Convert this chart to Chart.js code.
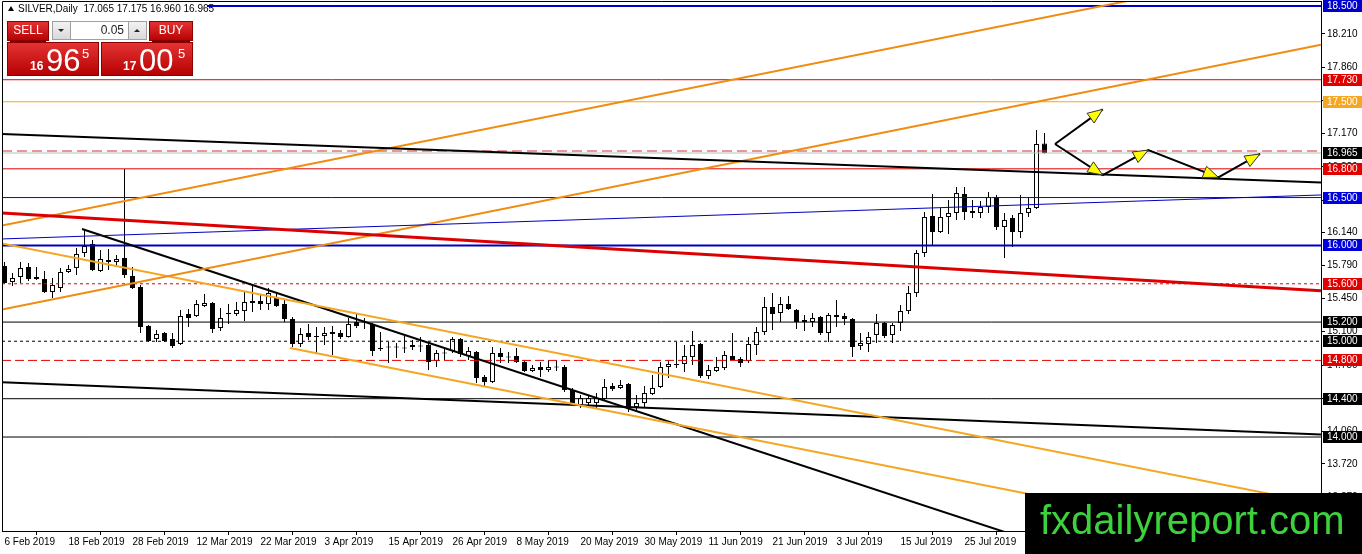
<!DOCTYPE html>
<html>
<head>
<meta charset="utf-8">
<script src="https://cdn.jsdelivr.net/npm/chart.js@4.4.1/dist/chart.umd.min.js"></script>
<style>
html, body { margin: 0; padding: 0; background: #fff; overflow: hidden; }
#wrap { position: relative; width: 1362px; height: 554px; }
</style>
</head>
<body>
<div id="wrap"><canvas id="chart" width="1362" height="554"></canvas></div>
<script>
// SILVER daily candles, one per trading day starting 6 Feb 2019
const opens = [
  15.786, 15.618, 15.671, 15.775, 15.671, 15.650, 15.514, 15.556, 15.723, 15.764,
  15.921, 16.015, 15.733, 15.848, 15.827, 15.869, 15.681, 15.566, 15.159, 15.023,
  15.086, 15.023, 14.971, 15.284, 15.263, 15.368, 15.399, 15.138, 15.284, 15.284,
  15.315, 15.420, 15.420, 15.388, 15.462, 15.388, 15.232, 14.971, 15.086, 15.044,
  15.054, 15.075, 15.086, 15.044, 15.201, 15.201, 15.180, 14.919, 14.940, 14.935,
  14.929, 14.940, 14.950, 14.960, 14.793, 14.877, 14.898, 15.023, 14.846, 14.887,
  14.626, 14.574, 14.877, 14.835, 14.846, 14.783, 14.689, 14.731, 14.699, 14.731,
  14.731, 14.491, 14.334, 14.355, 14.355, 14.397, 14.532, 14.512, 14.553, 14.313,
  14.355, 14.449, 14.522, 14.731, 14.752, 14.762, 14.835, 14.971, 14.637, 14.689,
  14.720, 14.846, 14.814, 14.793, 14.960, 15.096, 15.357, 15.295, 15.388, 15.326,
  15.222, 15.201, 15.253, 15.086, 15.274, 15.263, 15.232, 14.950, 14.971, 15.065,
  15.190, 15.065, 15.190, 15.315, 15.503, 15.921, 16.307, 16.140, 16.297, 16.339,
  16.537, 16.360, 16.339, 16.401, 16.506, 16.193, 16.286, 16.140, 16.339, 16.391,
  17.065
];
const highs = [
  15.827, 15.712, 15.827, 15.817, 15.775, 15.733, 15.660, 15.764, 15.796, 15.973,
  16.172, 16.057, 15.952, 15.963, 15.900, 16.798, 15.775, 15.587, 15.169, 15.117,
  15.096, 15.086, 15.326, 15.336, 15.430, 15.493, 15.409, 15.347, 15.388, 15.409,
  15.514, 15.587, 15.493, 15.556, 15.514, 15.430, 15.253, 15.138, 15.180, 15.148,
  15.148, 15.159, 15.117, 15.242, 15.295, 15.242, 15.190, 15.096, 14.992, 14.981,
  15.054, 15.013, 15.044, 14.981, 14.908, 14.929, 15.044, 15.034, 14.940, 14.898,
  14.647, 14.940, 14.929, 14.887, 14.929, 14.804, 14.752, 14.783, 14.804, 14.804,
  14.752, 14.512, 14.438, 14.438, 14.459, 14.605, 14.564, 14.595, 14.564, 14.438,
  14.532, 14.647, 14.783, 14.804, 14.992, 14.960, 15.107, 14.981, 14.752, 14.835,
  14.898, 15.086, 14.835, 15.044, 15.148, 15.462, 15.503, 15.462, 15.472, 15.336,
  15.274, 15.295, 15.263, 15.295, 15.430, 15.295, 15.242, 15.086, 15.096, 15.284,
  15.201, 15.190, 15.378, 15.576, 15.952, 16.349, 16.537, 16.391, 16.474, 16.610,
  16.610, 16.474, 16.464, 16.557, 16.527, 16.339, 16.318, 16.527, 16.495, 17.205,
  17.175
];
const lows = [
  15.597, 15.576, 15.608, 15.629, 15.639, 15.503, 15.451, 15.514, 15.712, 15.691,
  15.879, 15.733, 15.723, 15.744, 15.786, 15.660, 15.545, 15.086, 14.992, 14.992,
  14.992, 14.929, 14.960, 15.148, 15.253, 15.357, 15.086, 15.107, 15.180, 15.263,
  15.211, 15.305, 15.326, 15.326, 15.357, 15.201, 14.940, 14.940, 15.013, 14.877,
  14.960, 14.856, 15.023, 15.040, 15.138, 15.128, 14.846, 14.898, 14.772, 14.825,
  14.877, 14.908, 14.887, 14.699, 14.731, 14.804, 14.877, 14.835, 14.804, 14.564,
  14.532, 14.564, 14.772, 14.772, 14.772, 14.679, 14.679, 14.626, 14.679, 14.689,
  14.470, 14.334, 14.303, 14.313, 14.303, 14.376, 14.480, 14.501, 14.261, 14.282,
  14.313, 14.438, 14.512, 14.616, 14.720, 14.679, 14.752, 14.616, 14.605, 14.679,
  14.699, 14.804, 14.731, 14.772, 14.856, 15.065, 15.117, 15.201, 15.326, 15.128,
  15.107, 15.148, 15.065, 14.992, 15.148, 15.169, 14.835, 14.908, 14.887, 14.981,
  15.034, 14.981, 15.107, 15.284, 15.462, 15.879, 16.005, 16.130, 16.119, 16.266,
  16.266, 16.286, 16.286, 16.339, 16.161, 15.869, 15.984, 16.078, 16.297, 16.380,
  16.960
];
const closes = [
  15.608, 15.660, 15.764, 15.650, 15.650, 15.514, 15.587, 15.723, 15.754, 15.911,
  15.994, 15.744, 15.858, 15.827, 15.858, 15.691, 15.556, 15.148, 15.002, 15.075,
  15.002, 14.950, 15.263, 15.242, 15.388, 15.399, 15.128, 15.242, 15.290, 15.326,
  15.409, 15.399, 15.388, 15.503, 15.368, 15.232, 14.971, 15.075, 15.044, 15.050,
  15.086, 15.096, 15.044, 15.180, 15.159, 15.195, 14.898, 14.925, 14.935, 14.940,
  14.925, 14.960, 14.945, 14.783, 14.877, 14.872, 15.023, 14.867, 14.898, 14.616,
  14.574, 14.877, 14.835, 14.830, 14.783, 14.689, 14.720, 14.699, 14.731, 14.726,
  14.491, 14.355, 14.407, 14.407, 14.407, 14.522, 14.501, 14.543, 14.303, 14.355,
  14.459, 14.512, 14.731, 14.762, 14.757, 14.846, 14.960, 14.637, 14.699, 14.731,
  14.856, 14.804, 14.772, 14.971, 15.096, 15.357, 15.284, 15.388, 15.336, 15.201,
  15.201, 15.242, 15.086, 15.274, 15.253, 15.232, 14.940, 14.981, 15.044, 15.190,
  15.054, 15.169, 15.315, 15.503, 15.921, 16.297, 16.140, 16.297, 16.339, 16.547,
  16.349, 16.339, 16.401, 16.506, 16.193, 16.266, 16.140, 16.339, 16.391, 17.059,
  16.965
];

const dateLabels = ['6 Feb 2019', '18 Feb 2019', '28 Feb 2019', '12 Mar 2019', '22 Mar 2019',
  '3 Apr 2019', '15 Apr 2019', '26 Apr 2019', '8 May 2019', '20 May 2019', '30 May 2019',
  '11 Jun 2019', '21 Jun 2019', '3 Jul 2019', '15 Jul 2019', '25 Jul 2019'];
const dateBars = [0, 8, 16, 24, 32, 40, 48, 56, 64, 72, 80, 88, 96, 104, 112, 120];

const priceTicks = [18.21, 17.86, 17.51, 17.17, 16.82, 16.47, 16.14, 15.79, 15.45, 15.10,
  14.75, 14.40, 14.06, 13.72, 13.37];

// horizontal levels drawn on the chart (price)
const levelPrices = [18.5, 17.73, 17.5, 16.986, 16.965, 16.8, 16.5, 16.0, 15.6, 15.2, 15.0, 14.8, 14.4, 14.0];

// trend lines: [startBar, startPrice, endBar, endPrice]
const trendLines = [
  [-0.3125, 17.163, 164.5625, 16.658],   // black resistance
  [-0.3125, 16.338, 164.5625, 15.528],   // red
  [-0.3125, 16.068, 164.5625, 16.527],   // thin blue
  [-0.3125, 16.207, 164.5625, 18.956],   // rising channel top
  [-0.3125, 15.330, 164.5625, 18.095],   // rising channel bottom
  [-0.3125, 16.021, 164.5625, 13.300],   // falling channel top
  [35.69, 14.929, 164.5625, 12.802],     // falling channel bottom
  [9.69, 16.172, 164.5625, 11.924],      // steep black
  [-0.3125, 14.573, 164.5625, 14.027]    // lower black
];

// projected path arrows (bar, price)
const arrowUp = [[131.31, 17.059], [137.28, 17.421]];
const arrowPath = [[131.31, 17.059], [137.28, 16.735], [142.98, 16.996], [151.73, 16.711], [156.94, 16.955]];

const ohlcTitle = 'SILVER,Daily  17.065 17.175 16.960 16.965';

// ---------- styles ----------
const X_MIN = -0.3125, X_MAX = 164.5625;
const Y_MIN = 13.019, Y_MAX = 18.552;
const FONT = '"Liberation Sans", Arial, sans-serif';

const levelLook = [
  { c: '#0000cc', w: 2, box: '#0000cc' },
  { c: '#e00000', w: 1, box: '#e00000' },
  { c: '#f5a623', w: 1, box: '#f5a623' },
  { c: '#d03030', w: 1, dash: [10, 5] },
  { c: '#bcbcbc', w: 1, box: '#000000' },
  { c: '#e00000', w: 1, box: '#e00000' },
  { c: '#0000ff', w: 1, box: '#0000dd' },
  { c: '#0000c0', w: 2, box: '#0000dd' },
  { c: '#e00000', w: 1, dash: [3, 3], box: '#e00000' },
  { c: '#000000', w: 1, box: '#000000' },
  { c: '#000000', w: 1, dash: [3, 3], box: '#000000' },
  { c: '#e00000', w: 1, dash: [9, 4], box: '#e00000' },
  { c: '#000000', w: 1, box: '#000000' },
  { c: '#000000', w: 1, box: '#000000' }
];
const trendLook = [
  { c: '#000000', w: 2 },
  { c: '#dd0000', w: 3 },
  { c: '#0000c0', w: 1 },
  { c: '#f08c10', w: 2 },
  { c: '#f08c10', w: 2 },
  { c: '#f5a623', w: 2 },
  { c: '#f5a623', w: 2 },
  { c: '#000000', w: 2 },
  { c: '#000000', w: 2 }
];

const datasets = [];

levelPrices.forEach((p, i) => {
  const s = levelLook[i];
  datasets.push({
    type: 'line', order: 8,
    data: [{ x: X_MIN, y: p }, { x: X_MAX, y: p }],
    borderColor: s.c, borderWidth: s.w, borderDash: s.dash || [],
    pointRadius: 0, fill: false
  });
});

trendLines.forEach((t, i) => {
  const s = trendLook[i];
  datasets.push({
    type: 'line', order: 5,
    data: [{ x: t[0], y: t[1] }, { x: t[2], y: t[3] }],
    borderColor: s.c, borderWidth: s.w,
    pointRadius: 0, fill: false
  });
});

[arrowUp, arrowPath].forEach(a => {
  datasets.push({
    type: 'line', order: 1,
    data: a.map(p => ({ x: p[0], y: p[1] })),
    borderColor: '#000', borderWidth: 2,
    pointRadius: 0, fill: false
  });
});

// candle wicks and bodies
datasets.push({
  type: 'bar', order: 20, grouped: false,
  data: lows.map((l, i) => ({ x: i, y: [l, highs[i]] })),
  backgroundColor: '#000', borderWidth: 0, maxBarThickness: 1
});
datasets.push({
  type: 'bar', order: 19, grouped: false,
  data: opens.map((o, i) => ({ x: i, y: [o, closes[i]] })),
  backgroundColor: ctx => closes[ctx.dataIndex] >= opens[ctx.dataIndex] ? '#ffffff' : '#000000',
  borderColor: '#000', borderWidth: 1, borderSkipped: false,
  maxBarThickness: 5, minBarLength: 1
});

function arrowHead(ctx, x1, y1, x2, y2) {
  const a = Math.atan2(y2 - y1, x2 - x1);
  const L = 15, W = 6;
  const bx = x2 - L * Math.cos(a), by = y2 - L * Math.sin(a);
  ctx.beginPath();
  ctx.moveTo(x2, y2);
  ctx.lineTo(bx + W * Math.sin(a), by - W * Math.cos(a));
  ctx.lineTo(bx - W * Math.sin(a), by + W * Math.cos(a));
  ctx.closePath();
  ctx.fillStyle = '#ffff00';
  ctx.fill();
  ctx.strokeStyle = '#333';
  ctx.lineWidth = 1;
  ctx.stroke();
}

function redBox(ctx, x, y, w, h) {
  const g = ctx.createLinearGradient(0, y, 0, y + h);
  g.addColorStop(0, '#e63434');
  g.addColorStop(1, '#b40000');
  ctx.fillStyle = g;
  ctx.fillRect(x, y, w, h);
  ctx.strokeStyle = '#8a0000';
  ctx.lineWidth = 1;
  ctx.strokeRect(x + 0.5, y + 0.5, w - 1, h - 1);
}

function drawPanel(ctx) {
  // SELL / BUY buttons
  redBox(ctx, 7, 21, 42, 20);
  redBox(ctx, 149, 21, 44, 20);
  ctx.fillStyle = '#fff';
  ctx.font = '12px ' + FONT;
  ctx.textBaseline = 'middle';
  ctx.textAlign = 'center';
  ctx.fillText('SELL', 28, 31);
  ctx.fillText('BUY', 171, 31);
  ctx.strokeStyle = '#6a0000';
  ctx.beginPath();
  ctx.moveTo(10, 41.5); ctx.lineTo(46, 41.5);
  ctx.moveTo(152, 41.5); ctx.lineTo(190, 41.5);
  ctx.stroke();

  // spinner and lot box
  const gb = ctx.createLinearGradient(0, 21, 0, 40);
  gb.addColorStop(0, '#f4f4f4'); gb.addColorStop(1, '#d8d8d8');
  ctx.fillStyle = gb;
  ctx.fillRect(52, 21, 18, 19);
  ctx.fillRect(128, 21, 19, 19);
  ctx.fillStyle = '#fff';
  ctx.fillRect(70, 21, 58, 19);
  ctx.strokeStyle = '#a0a0a0';
  ctx.strokeRect(52.5, 21.5, 94, 18);
  ctx.beginPath();
  ctx.moveTo(70.5, 21); ctx.lineTo(70.5, 40);
  ctx.moveTo(128.5, 21); ctx.lineTo(128.5, 40);
  ctx.stroke();
  ctx.fillStyle = '#222';
  ctx.beginPath(); ctx.moveTo(58, 29); ctx.lineTo(64, 29); ctx.lineTo(61, 32); ctx.closePath(); ctx.fill();
  ctx.beginPath(); ctx.moveTo(134, 32); ctx.lineTo(140, 32); ctx.lineTo(137, 29); ctx.closePath(); ctx.fill();
  ctx.font = '12px ' + FONT;
  ctx.textAlign = 'right';
  ctx.fillText('0.05', 124, 31);

  // price boxes
  redBox(ctx, 7, 42, 92, 34);
  redBox(ctx, 101, 42, 92, 34);
  ctx.fillStyle = '#fff';
  ctx.textAlign = 'left';
  ctx.textBaseline = 'alphabetic';
  ctx.font = 'bold 12px ' + FONT;
  ctx.fillText('16', 30, 70);
  ctx.fillText('17', 123, 70);
  ctx.font = '31px ' + FONT;
  ctx.fillText('96', 46, 71);
  ctx.fillText('00', 139, 71);
  ctx.font = '13px ' + FONT;
  ctx.fillText('5', 82, 58);
  ctx.fillText('5', 178, 58);
}

const overlay = {
  id: 'overlay',
  beforeDraw(chart) {
    const ctx = chart.ctx;
    ctx.save();
    ctx.fillStyle = '#fff';
    ctx.fillRect(0, 0, chart.width, chart.height);
    ctx.restore();
  },
  afterDatasetsDraw(chart) {
    const ctx = chart.ctx;
    const xs = chart.scales.x, ys = chart.scales.y;
    ctx.save();
    const pt = p => [xs.getPixelForValue(p[0]), ys.getPixelForValue(p[1])];
    const u = arrowUp.map(pt);
    arrowHead(ctx, u[0][0], u[0][1], u[1][0], u[1][1]);
    const a = arrowPath.map(pt);
    for (let i = 1; i < a.length; i++) {
      arrowHead(ctx, a[i - 1][0], a[i - 1][1], a[i][0], a[i][1]);
    }
    ctx.restore();
  },
  afterDraw(chart) {
    const ctx = chart.ctx;
    const ys = chart.scales.y;
    const area = chart.chartArea;
    ctx.save();
    // frame
    ctx.strokeStyle = '#000';
    ctx.lineWidth = 1;
    ctx.beginPath();
    ctx.moveTo(area.left + 0.5, area.bottom);
    ctx.lineTo(area.left + 0.5, area.top + 0.5);
    ctx.lineTo(area.right, area.top + 0.5);
    ctx.stroke();

    // level price tags on the axis
    ctx.font = '10px ' + FONT;
    ctx.textBaseline = 'middle';
    ctx.textAlign = 'left';
    levelPrices.forEach((p, i) => {
      const s = levelLook[i];
      if (!s.box) return;
      const y = Math.round(ys.getPixelForValue(p));
      ctx.fillStyle = s.box;
      ctx.fillRect(area.right + 2, y - 6, chart.width - area.right - 2, 12);
      ctx.fillStyle = '#fff';
      ctx.fillText(p.toFixed(3), area.right + 6, y + 0.5);
    });

    // symbol header
    ctx.fillStyle = '#fff';
    ctx.fillRect(3, 2, 204, 11);
    ctx.fillStyle = '#000';
    ctx.beginPath(); ctx.moveTo(8, 11); ctx.lineTo(14, 11); ctx.lineTo(11, 6); ctx.closePath(); ctx.fill();
    ctx.font = '10px ' + FONT;
    ctx.textBaseline = 'alphabetic';
    ctx.fillText(ohlcTitle, 18, 12);

    drawPanel(ctx);

    // watermark
    ctx.fillStyle = '#000';
    ctx.fillRect(1025, 493, chart.width - 1025, chart.height - 493);
    ctx.fillStyle = '#3dd13d';
    ctx.font = '40px ' + FONT;
    ctx.textAlign = 'left';
    ctx.textBaseline = 'alphabetic';
    ctx.fillText('fxdailyreport.com', 1040, 534);
    ctx.restore();
  }
};

Chart.defaults.font.family = FONT;
Chart.defaults.font.size = 10;
Chart.defaults.color = '#000';

new Chart(document.getElementById('chart'), {
  type: 'bar',
  data: { datasets },
  options: {
    responsive: false,
    animation: false,
    devicePixelRatio: 1,
    events: [],
    layout: { padding: { left: 2, top: 1, right: 0, bottom: 0 } },
    plugins: { legend: { display: false }, tooltip: { enabled: false } },
    scales: {
      x: {
        type: 'linear', min: X_MIN, max: X_MAX, offset: false,
        afterFit: s => { s.height = 23; s.paddingLeft = 0; s.paddingRight = 0; },
        afterBuildTicks: s => { s.ticks = dateBars.map(v => ({ value: v })); },
        grid: { drawOnChartArea: false, drawTicks: true, tickLength: 4, color: '#000' },
        border: { display: true, color: '#000', width: 1 },
        ticks: {
          autoSkip: false, maxRotation: 0, align: 'start', padding: 1,
          font: { size: 10 }, color: '#000',
          callback: (v, i) => dateLabels[i]
        }
      },
      y: {
        type: 'linear', position: 'right', min: Y_MIN, max: Y_MAX,
        afterFit: s => { s.width = 41; s.paddingTop = 0; s.paddingBottom = 0; },
        afterBuildTicks: s => { s.ticks = priceTicks.map(v => ({ value: v })); },
        grid: { drawOnChartArea: false, drawTicks: true, tickLength: 4, color: '#000' },
        border: { display: true, color: '#000', width: 1 },
        ticks: {
          autoSkip: false, padding: 2, font: { size: 10 }, color: '#000',
          callback: v => Number(v).toFixed(3)
        }
      }
    }
  },
  plugins: [overlay]
});
</script>
</body>
</html>
